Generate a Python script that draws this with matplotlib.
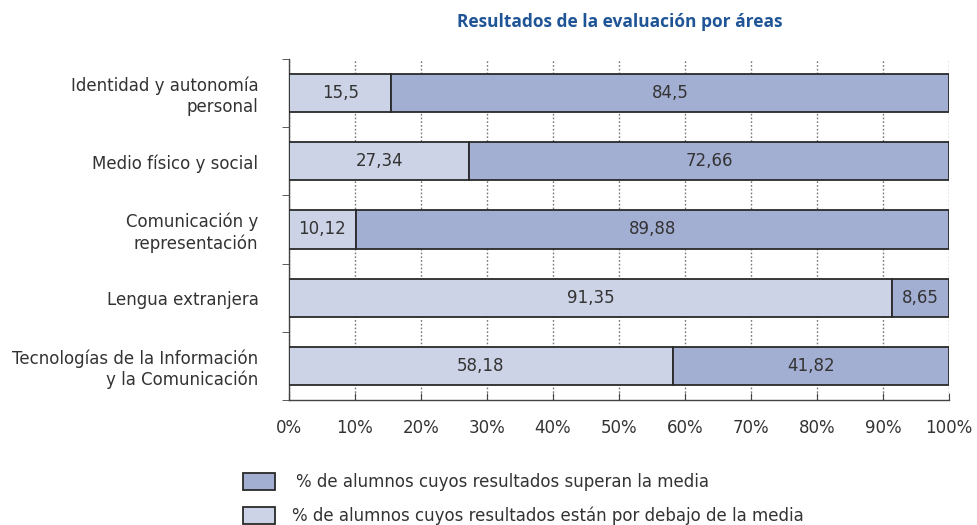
import matplotlib
matplotlib.use("Agg")
import matplotlib.pyplot as plt
from matplotlib.patches import Rectangle

plt.rcParams["font.family"] = ["DejaVu Sans"]

# Datos
areas = ["Identidad y autonomía\npersonal", "Medio físico y social",
         "Comunicación y\nrepresentación", "Lengua extranjera",
         "Tecnologías de la Información\ny la Comunicación"]
debajo = [15.5, 27.34, 10.12, 91.35, 58.18]
superan = [84.5, 72.66, 89.88, 8.65, 41.82]
etiquetas_debajo = ["15,5", "27,34", "10,12", "91,35", "58,18"]
etiquetas_superan = ["84,5", "72,66", "89,88", "8,65", "41,82"]
ticks_x = [0, 10, 20, 30, 40, 50, 60, 70, 80, 90, 100]

c_claro = "#CDD3E6"
c_oscuro = "#A3AED3"
c_borde = "#2a2a2a"
c_texto = "#333333"
fs = 12

fig = plt.figure(figsize=(9.78, 5.25), dpi=100)
ax = fig.add_axes([289/978, 1 - 400/525, 660/978, 341/525])

pos = list(range(len(areas)))
ax.barh(pos, debajo, height=0.56, color=c_claro, edgecolor=c_borde, linewidth=1.3, zorder=3)
ax.barh(pos, superan, left=debajo, height=0.56, color=c_oscuro, edgecolor=c_borde, linewidth=1.3, zorder=3)

for i in pos:
    ax.text(debajo[i] / 2, i, etiquetas_debajo[i], ha="center", va="center",
            fontsize=fs, color=c_texto, zorder=4)
    ax.text(debajo[i] + superan[i] / 2, i, etiquetas_superan[i], ha="center", va="center",
            fontsize=fs, color=c_texto, zorder=4)

ax.set_ylim(len(areas) - 0.5, -0.5)
ax.set_xlim(0, 100)

# eje y: etiquetas centradas, marcas en los limites entre categorias
ax.set_yticks(pos)
ax.set_yticklabels(areas, fontsize=fs, color=c_texto, ha="right", multialignment="right")
ax.tick_params(axis="y", which="major", length=0, pad=22)
ax.set_yticks([p - 0.5 for p in pos] + [len(areas) - 0.5], minor=True)
ax.tick_params(axis="y", which="minor", length=5, direction="out", color="#444444")

ax.set_xticks(ticks_x)
ax.set_xticklabels([f"{t}%" for t in ticks_x], fontsize=fs, color=c_texto)
ax.tick_params(axis="x", length=5, direction="in", color="#444444", pad=14)

ax.grid(axis="x", linestyle=(0, (1.2, 1.5)), color="#777777", linewidth=1, zorder=0)

for s in ["top", "right"]:
    ax.spines[s].set_visible(False)
for s in ["left", "bottom"]:
    ax.spines[s].set_color("#444444")
    ax.spines[s].set_linewidth(1)

fig.text(620/978, 1 - 22/525, "Resultados de la evaluación por áreas", ha="center", va="center",
         fontsize=12.5, fontweight="bold", color="#1F5597", family=["Open Sans", "DejaVu Sans"])

# Leyenda
fig.patches.append(Rectangle((243/978, 1 - 490/525), 32/978, 17/525, transform=fig.transFigure,
                             facecolor=c_oscuro, edgecolor=c_borde, linewidth=1.3))
fig.patches.append(Rectangle((243/978, 1 - 525/525 + 0.001), 32/978, 17/525, transform=fig.transFigure,
                             facecolor=c_claro, edgecolor=c_borde, linewidth=1.3))
fig.text(296/978, 1 - 482/525, "% de alumnos cuyos resultados superan la media", ha="left",
         va="center", fontsize=fs, color=c_texto)
fig.text(292/978, 1 - 516/525, "% de alumnos cuyos resultados están por debajo de la media", ha="left",
         va="center", fontsize=fs, color=c_texto)

fig.savefig("out.png", dpi=100)
